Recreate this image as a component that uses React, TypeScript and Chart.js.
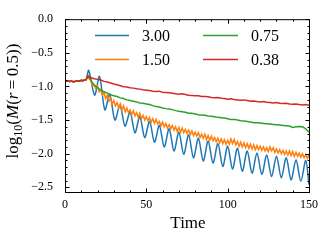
import { useEffect, useRef } from "react";
import { Chart, registerables } from "chart.js";

Chart.register(...registerables);

// ---------- data ----------
const earlyTime = [0, 1, 2, 3, 4, 5, 6, 7, 8, 9, 10, 11, 12, 13];
const earlyValue = [-0.92, -0.915, -0.92, -0.925, -0.92, -0.93, -0.925, -0.92, -0.915, -0.92, -0.91, -0.915, -0.905, -0.9];

const blueTime = [14.6, 18.2, 21.2, 24.5, 27.5, 30.7, 33.8, 36.9, 40, 43, 46, 49, 52, 55, 58, 61, 64, 67, 70, 73, 76, 79, 82, 85, 88, 91, 94, 97, 100, 103, 106, 109, 112, 115, 118, 121, 124, 127, 130, 133, 136, 139, 142, 145, 148, 150];
const blueValue = [-0.76, -1.13, -0.85, -1.35, -1.12, -1.5, -1.28, -1.59, -1.38, -1.69, -1.45, -1.76, -1.52, -1.83, -1.58, -1.9, -1.63, -1.96, -1.68, -2.01, -1.72, -2.06, -1.77, -2.11, -1.81, -2.14, -1.85, -2.19, -1.89, -2.23, -1.92, -2.26, -1.96, -2.29, -1.99, -2.31, -2.02, -2.34, -2.04, -2.36, -2.06, -2.39, -2.09, -2.41, -2.1, -2.46];

const orangeStart = 14; // one value per time unit
const orangeValue = [
  -0.86, -0.89, -0.92, -0.99, -0.98, -1.03, -0.99, -1.08, -1.05, -1.13,
  -1.09, -1.18, -1.13, -1.22, -1.17, -1.26, -1.21, -1.29, -1.24, -1.32,
  -1.26, -1.35, -1.29, -1.38, -1.32, -1.39, -1.35, -1.42, -1.36, -1.44,
  -1.39, -1.46, -1.4, -1.48, -1.43, -1.5, -1.45, -1.51, -1.46, -1.53,
  -1.48, -1.55, -1.49, -1.56, -1.52, -1.59, -1.53, -1.6, -1.55, -1.62,
  -1.57, -1.63, -1.58, -1.65, -1.6, -1.67, -1.61, -1.68, -1.62, -1.69,
  -1.64, -1.7, -1.65, -1.72, -1.66, -1.73, -1.68, -1.74, -1.69, -1.76,
  -1.71, -1.77, -1.71, -1.79, -1.73, -1.8, -1.74, -1.81, -1.76, -1.82,
  -1.77, -1.84, -1.78, -1.85, -1.79, -1.86, -1.8, -1.86, -1.78, -1.85,
  -1.79, -1.87, -1.82, -1.89, -1.83, -1.9, -1.84, -1.91, -1.85, -1.92,
  -1.86, -1.93, -1.87, -1.94, -1.88, -1.94, -1.89, -1.95, -1.9, -1.96,
  -1.91, -1.97, -1.9, -1.96, -1.91, -1.98, -1.93, -1.99, -1.94, -2.0,
  -1.95, -2.01, -1.96, -2.02, -1.96, -2.03, -1.97, -2.04, -1.98, -2.04,
  -1.99, -2.05, -2.0, -2.06, -2.01, -2.07, -2.02,
];

const greenStart = 14; // one value every 2 time units
const greenValue = [
  -0.84, -0.91, -0.98, -1.02, -1.05, -1.08, -1.1, -1.12, -1.14, -1.15,
  -1.17, -1.18, -1.2, -1.21, -1.22, -1.23, -1.245, -1.25, -1.26, -1.27,
  -1.285, -1.3, -1.305, -1.32, -1.33, -1.335, -1.345, -1.36, -1.37, -1.375,
  -1.385, -1.4, -1.4, -1.41, -1.42, -1.425, -1.43, -1.44, -1.445, -1.45,
  -1.46, -1.465, -1.47, -1.48, -1.49, -1.49, -1.5, -1.51, -1.515, -1.52,
  -1.53, -1.54, -1.54, -1.545, -1.55, -1.555, -1.56, -1.565, -1.57, -1.575,
  -1.58, -1.585, -1.59, -1.61, -1.6, -1.595, -1.6, -1.63, -1.68,
];

const redStart = 14; // one value every 2 time units
const redValue = [
  -0.84, -0.87, -0.885, -0.895, -0.905, -0.925, -0.935, -0.95, -0.965, -0.975,
  -0.99, -1.005, -1.01, -1.02, -1.025, -1.035, -1.04, -1.05, -1.055, -1.06,
  -1.07, -1.075, -1.07, -1.085, -1.09, -1.095, -1.1, -1.11, -1.115, -1.11,
  -1.12, -1.13, -1.135, -1.14, -1.14, -1.15, -1.15, -1.155, -1.165, -1.17,
  -1.165, -1.175, -1.18, -1.19, -1.185, -1.195, -1.2, -1.205, -1.2, -1.21,
  -1.22, -1.215, -1.225, -1.23, -1.225, -1.235, -1.24, -1.245, -1.24, -1.25,
  -1.255, -1.25, -1.26, -1.265, -1.26, -1.27, -1.275, -1.27, -1.28,
];

const seriesLabels = ["3.00", "1.50", "0.75", "0.38"];
const seriesColors = ["#1f77b4", "#ff7f0e", "#2ca02c", "#d62728"];
const xTickValues = [0, 50, 100, 150];
const yTickValues = [-2.5, -2.0, -1.5, -1.0, -0.5, 0.0];
const X_MIN = 0;
const X_MAX = 150;
const Y_MIN = -2.57;
const Y_MAX = 0;
const xLabel = "Time";

const SERIF = '"Liberation Serif", "Times New Roman", serif';

function withEarly(times: number[], values: number[]) {
  const pts = earlyTime.map((t, i) => ({ x: t, y: earlyValue[i] }));
  times.forEach((t, i) => pts.push({ x: t, y: values[i] }));
  return pts;
}

const fmt = (v: number, d: number) => v.toFixed(d).replace("-", "\u2212");

const decorPlugin = {
  id: "decor",
  afterDatasetsDraw(chart: any) {
    const { ctx, chartArea } = chart;
    const { left, right, top, bottom } = chartArea;
    const xs = chart.scales.x;
    const ys = chart.scales.y;
    ctx.save();
    ctx.strokeStyle = "#000";
    ctx.lineWidth = 1;
    ctx.beginPath();
    const L = left + 0.5, R = right + 0.5, T = top + 0.5, B = bottom + 0.5;
    for (let v = X_MIN; v <= X_MAX + 1e-9; v += 10) {
      const major = xTickValues.some((m) => Math.abs(m - v) < 1e-9);
      const len = major ? 4 : 2;
      const px = Math.round(xs.getPixelForValue(v)) + 0.5;
      ctx.moveTo(px, B); ctx.lineTo(px, B - len);
      ctx.moveTo(px, T); ctx.lineTo(px, T + len);
    }
    for (let k = -25; k <= 0; k++) {
      const v = k / 10;
      if (v < Y_MIN) continue;
      const major = yTickValues.some((m) => Math.abs(m - v) < 1e-9);
      const len = major ? 4 : 2;
      const py = Math.round(ys.getPixelForValue(v)) + 0.5;
      ctx.moveTo(L, py); ctx.lineTo(L + len, py);
      ctx.moveTo(R, py); ctx.lineTo(R - len, py);
    }
    ctx.stroke();
    ctx.strokeRect(L, T, R - L, B - T);
    ctx.restore();
  },
  afterDraw(chart: any) {
    const { ctx, chartArea } = chart;
    ctx.save();
    const rows = [35, 59];
    const cols = [{ x0: 95, x1: 129, tx: 142 }, { x0: 203, x1: 238, tx: 251 }];
    ctx.font = `16px ${SERIF}`;
    ctx.textBaseline = "alphabetic";
    ctx.textAlign = "left";
    seriesLabels.forEach((lab, i) => {
      const c = cols[Math.floor(i / 2)];
      const y = rows[i % 2];
      ctx.strokeStyle = seriesColors[i];
      ctx.lineWidth = 1.5;
      ctx.beginPath();
      ctx.moveTo(c.x0, y + 0.5);
      ctx.lineTo(c.x1, y + 0.5);
      ctx.stroke();
      ctx.fillStyle = "#000";
      ctx.fillText(lab, c.tx, y + 5.8);
    });
    ctx.font = `17px ${SERIF}`;
    ctx.textAlign = "center";
    ctx.fillText(xLabel, (chartArea.left + chartArea.right) / 2 + 1, 228);
    const segs = [
      { t: "log", f: `17px ${SERIF}`, dy: 0 },
      { t: "10", f: `12px ${SERIF}`, dy: 4 },
      { t: "(", f: `17px ${SERIF}`, dy: 0 },
      { t: "M", f: `italic 17px ${SERIF}`, dy: 0 },
      { t: "(", f: `17px ${SERIF}`, dy: 0 },
      { t: "r", f: `italic 17px ${SERIF}`, dy: 0 },
      { t: "\u2009=\u2009", f: `17px ${SERIF}`, dy: 0 },
      { t: "0.5))", f: `17px ${SERIF}`, dy: 0 },
    ];
    let total = 0;
    const widths = segs.map((s) => { ctx.font = s.f; const w = ctx.measureText(s.t).width; total += w; return w; });
    ctx.translate(18, 101);
    ctx.rotate(-Math.PI / 2);
    ctx.textAlign = "left";
    let x = -total / 2;
    segs.forEach((s, i) => {
      ctx.font = s.f;
      ctx.fillText(s.t, x, s.dy);
      x += widths[i];
    });
    ctx.restore();
  },
};

export default function App() {
  const ref = useRef<HTMLCanvasElement | null>(null);
  useEffect(() => {
    document.body.style.margin = "0";
    const canvas = ref.current;
    if (!canvas) return;
    const datasets = [
      { label: seriesLabels[0], data: withEarly(blueTime, blueValue), borderColor: seriesColors[0], order: 4, tension: 0.3 },
      { label: seriesLabels[1], data: withEarly(orangeValue.map((_, i) => orangeStart + i), orangeValue), borderColor: seriesColors[1], order: 3, tension: 0 },
      { label: seriesLabels[2], data: withEarly(greenValue.map((_, i) => greenStart + 2 * i), greenValue), borderColor: seriesColors[2], order: 2, tension: 0 },
      { label: seriesLabels[3], data: withEarly(redValue.map((_, i) => redStart + 2 * i), redValue), borderColor: seriesColors[3], order: 1, tension: 0 },
    ].map((d) => ({ ...d, borderWidth: 1.5, pointRadius: 0, fill: false }));

    const chart = new Chart(canvas, {
      type: "line",
      data: { datasets },
      options: {
        animation: false,
        responsive: false,
        devicePixelRatio: 1,
        layout: { padding: { left: 0, top: 14, right: 21, bottom: 0 } },
        plugins: { legend: { display: false }, tooltip: { enabled: false } },
        scales: {
          x: {
            type: "linear",
            min: X_MIN,
            max: X_MAX,
            grid: { display: false, drawTicks: false },
            border: { display: false },
            afterBuildTicks: (s: any) => { s.ticks = xTickValues.map((v) => ({ value: v })); },
            afterFit: (s: any) => { s.height = 49; },
            ticks: { color: "#000", font: { family: SERIF, size: 12 }, padding: 6, maxRotation: 0, callback: (v: any) => fmt(Number(v), 0) },
          },
          y: {
            type: "linear",
            min: Y_MIN,
            max: Y_MAX,
            grid: { display: false, drawTicks: false },
            border: { display: false },
            afterBuildTicks: (s: any) => { s.ticks = yTickValues.map((v) => ({ value: v })); },
            afterFit: (s: any) => { s.width = 65; },
            ticks: { color: "#000", font: { family: SERIF, size: 12 }, padding: 12, callback: (v: any) => fmt(Number(v), 1) },
          },
        },
      },
      plugins: [decorPlugin],
    } as any);
    return () => chart.destroy();
  }, []);
  return (
    <div style={{ width: 330, height: 241, background: "#fff" }}>
      <canvas ref={ref} width={330} height={241} />
    </div>
  );
}
